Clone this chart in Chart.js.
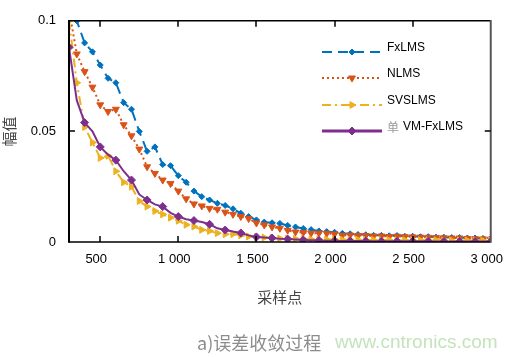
<!DOCTYPE html>
<html><head><meta charset="utf-8">
<script src="https://cdn.jsdelivr.net/npm/chart.js@4/dist/chart.umd.min.js"></script>
<style>
html,body{margin:0;padding:0;background:#fff;}
#wrap{position:relative;width:517px;height:357px;overflow:hidden;background:#fff;}
#c{position:absolute;left:0;top:0;}
.cap{position:absolute;top:329px;font-family:"Noto Sans CJK SC",sans-serif;font-size:18px;line-height:26px;color:#8c8c8c;white-space:nowrap;}
.wm{left:335px;font-family:"Liberation Sans",Arial,sans-serif;font-size:19px;color:#c3e4bb;}
</style></head><body>
<div id="wrap">
<canvas id="c" width="517" height="357" style="width:517px;height:357px"></canvas>
<div class="cap" style="left:197px">a)误差收敛过程</div>
<div class="cap wm">www.cntronics.com</div>
</div>
<script>
const samplePoints = [300,350,400,450,500,550,600,650,700,750,800,850,900,950,1000,1050,1100,1150,1200,1250,1300,1350,1400,1450,1500,1550,1600,1650,1700,1750,1800,1850,1900,1950,2000,2050,2100,2150,2200,2250,2300,2350,2400,2450,2500,2550,2600,2650,2700,2750,2800,2850,2900,2950,3000];
const seriesNames = ['FxLMS','NLMS','SVSLMS','单 VM-FxLMS'];
const fxlms = [0.108,0.100,0.090,0.086,0.080,0.074,0.072,0.063,0.060,0.050,0.041,0.043,0.035,0.0345,0.030,0.027,0.023,0.0205,0.019,0.0175,0.0165,0.015,0.013,0.0115,0.0100,0.0090,0.0087,0.0084,0.0075,0.0068,0.0061,0.0056,0.0050,0.0047,0.0044,0.0039,0.0037,0.0034,0.0033,0.0030,0.0030,0.0028,0.0029,0.0026,0.0026,0.0024,0.0024,0.0022,0.0022,0.0020,0.0020,0.0018,0.0018,0.0016,0.0016];
const nlms = [0.105,0.085,0.077,0.070,0.062,0.059,0.060,0.053,0.048,0.042,0.034,0.031,0.028,0.0264,0.023,0.0195,0.0172,0.0163,0.0152,0.0148,0.0135,0.0125,0.0115,0.0106,0.0086,0.0077,0.0068,0.0062,0.0053,0.0045,0.0043,0.0040,0.0040,0.0039,0.0036,0.0030,0.0031,0.0029,0.0029,0.0027,0.0027,0.0025,0.0026,0.0024,0.0023,0.0022,0.0021,0.0020,0.0019,0.0018,0.0018,0.0016,0.0015,0.0014,0.0013];
const svslms = [0.100,0.072,0.052,0.045,0.038,0.039,0.032,0.027,0.025,0.0185,0.016,0.014,0.0125,0.011,0.0096,0.0078,0.0070,0.0055,0.0050,0.0040,0.0035,0.0036,0.0030,0.0025,0.0022,0.0020,0.0018,0.0016,0.0015,0.0014,0.0013,0.0012,0.0012,0.0011,0.0011,0.0010,0.0010,0.0010,0.0009,0.0009,0.0009,0.0009,0.0008,0.0008,0.0008,0.0008,0.0008,0.0008,0.0007,0.0007,0.0007,0.0007,0.0007,0.0007,0.0007];
const vmfxlms = [0.088,0.064,0.054,0.050,0.043,0.0395,0.037,0.032,0.028,0.0215,0.019,0.017,0.016,0.0132,0.0115,0.0103,0.0097,0.0090,0.0080,0.0062,0.0054,0.0047,0.0041,0.0030,0.0023,0.0020,0.0018,0.0015,0.0013,0.0011,0.0009,0.0008,0.0007,0.0006,0.0005,0.0005,0.0004,0.0004,0.0004,0.0003,0.0003,0.0003,0.0003,0.0003,0.0003,0.0003,0.0003,0.0002,0.0002,0.0002,0.0002,0.0002,0.0002,0.0002,0.0002];
const xTickValues = [500,1000,1500,2000,2500,3000];
const xTickLabels = ['500','1 000','1 500','2 000','2 500','3 000'];
const yTickValues = [0,0.05,0.1];
const yTickLabels = ['0','0.05','0.1'];

const toXY = arr => samplePoints.map((x,i)=>({x:x, y:arr[i]}));

Chart.defaults.font.family = "'Liberation Sans', Arial, sans-serif";
Chart.defaults.font.size = 13;
Chart.defaults.color = '#000';

const datasets = [
  {label:seriesNames[0], data:toXY(fxlms), borderColor:'#0072BD', backgroundColor:'#0072BD', borderWidth:2, borderDash:[10,6],
   pointStyle:'rectRot', pointRadius:3, pointBackgroundColor:'#0072BD', pointBorderColor:'#0072BD', pointBorderWidth:1, order:3},
  {label:seriesNames[1], data:toXY(nlms), borderColor:'#D95319', backgroundColor:'#D95319', borderWidth:2, borderDash:[2,3],
   pointStyle:'triangle', pointRotation:180, pointRadius:4, pointBackgroundColor:'#D95319', pointBorderColor:'#D95319', pointBorderWidth:1, order:2},
  {label:seriesNames[2], data:toXY(svslms), borderColor:'#EDB120', backgroundColor:'#EDB120', borderWidth:2, borderDash:[9,4,2,4],
   pointStyle:'triangle', pointRotation:90, pointRadius:4, pointBackgroundColor:'#EDB120', pointBorderColor:'#EDB120', pointBorderWidth:1, order:1},
  {label:seriesNames[3], data:toXY(vmfxlms), borderColor:'#7E2F8E', backgroundColor:'#7E2F8E', borderWidth:2,
   pointStyle:'rectRot', pointRadius:(c)=> (c.raw && c.raw.x % 100 === 0) ? 4 : 0, pointBackgroundColor:'#7E2F8E', pointBorderColor:'#7E2F8E', pointBorderWidth:1, order:0}
];

function drawMarker(ctx, ds, x, y){
  const r = typeof ds.pointRadius === 'function' ? 4 : ds.pointRadius;
  ctx.save();
  ctx.setLineDash([]);
  ctx.fillStyle = ds.pointBackgroundColor;
  ctx.strokeStyle = ds.pointBorderColor;
  ctx.lineWidth = ds.pointBorderWidth;
  Chart.helpers.drawPoint(ctx, {pointStyle:ds.pointStyle, radius:r, rotation:ds.pointRotation||0, borderWidth:ds.pointBorderWidth}, x, y);
  ctx.restore();
}

const boxPlugin = {
  id:'box',
  afterDraw(chart){
    const {ctx, chartArea:a, scales} = chart;
    ctx.save();
    ctx.setLineDash([]);
    ctx.strokeStyle = '#000';
    ctx.lineWidth = 1.5;
    ctx.beginPath();
    ctx.moveTo(a.left, a.top); ctx.lineTo(a.right, a.top);
    ctx.moveTo(a.left, a.bottom); ctx.lineTo(a.right, a.bottom);
    ctx.stroke();
    ctx.lineWidth = 2;
    ctx.beginPath();
    ctx.moveTo(a.left, a.top - 0.75); ctx.lineTo(a.left, a.bottom + 0.75);
    ctx.stroke();
    ctx.strokeStyle = '#555';
    ctx.beginPath();
    ctx.moveTo(a.right, a.top - 0.75); ctx.lineTo(a.right, a.bottom + 0.75);
    ctx.stroke();
    ctx.strokeStyle = '#000';
    ctx.lineWidth = 1.5;
    ctx.beginPath();
    xTickValues.forEach(v=>{
      const px = Math.round(scales.x.getPixelForValue(v));
      if (px >= a.right - 1) return;
      ctx.moveTo(px, a.bottom); ctx.lineTo(px, a.bottom - 6);
      ctx.moveTo(px, a.top); ctx.lineTo(px, a.top + 6);
    });
    yTickValues.forEach(v=>{
      const py = Math.round(scales.y.getPixelForValue(v));
      if (py <= a.top + 1 || py >= a.bottom - 1) return;
      ctx.moveTo(a.left, py); ctx.lineTo(a.left + 6, py);
      ctx.moveTo(a.right, py); ctx.lineTo(a.right - 6, py);
    });
    ctx.stroke();
    ctx.restore();
  }
};

const legendPlugin = {
  id:'insideLegend',
  afterDraw(chart){
    const ctx = chart.ctx;
    const rows = [52,78,105,131];
    const x0 = 322, x1 = 382, xm = 352, xt = 387;
    chart.data.datasets.forEach((ds,i)=>{
      const y = rows[i];
      ctx.save();
      ctx.strokeStyle = ds.borderColor;
      ctx.lineWidth = i === 3 ? 3 : 2;
      ctx.setLineDash(ds.borderDash || []);
      ctx.beginPath(); ctx.moveTo(x0, y); ctx.lineTo(x1, y); ctx.stroke();
      ctx.restore();
      drawMarker(ctx, ds, xm, y);
      ctx.save();
      ctx.textBaseline = 'middle';
      ctx.textAlign = 'left';
      const label = ds.label;
      if (label.startsWith('单 ')) {
        ctx.font = "12px 'Noto Sans CJK SC'";
        ctx.fillStyle = '#9a9a9a';
        ctx.fillText('单', xt, y - 4);
        ctx.font = "12px 'Liberation Sans', Arial";
        ctx.fillStyle = '#000';
        ctx.fillText(label.slice(2), xt + 16, y - 4);
      } else {
        ctx.font = "12px 'Liberation Sans', Arial";
        ctx.fillStyle = '#000';
        ctx.fillText(label, xt, y - 4);
      }
      ctx.restore();
    });
  }
};

new Chart(document.getElementById('c'), {
  type:'line',
  data:{datasets:datasets},
  options:{
    responsive:false, animation:false,
    layout:{padding:{left:0,right:15,top:15,bottom:0}},
    plugins:{legend:{display:false}, tooltip:{enabled:false}},
    scales:{
      x:{type:'linear', min:300, max:3000,
        grid:{display:false, drawTicks:false}, border:{display:false},
        afterBuildTicks:s=>{ s.ticks = xTickValues.map(v=>({value:v})); },
        afterFit:s=>{ s.height = 115; },
        ticks:{padding:10, labelOffset:-4, maxRotation:0, autoSkip:false,
          callback:(v)=>{ const k = xTickValues.indexOf(v); return k >= 0 ? xTickLabels[k] : ''; }},
        title:{display:true, text:'采样点', color:'#444', font:{family:"'Noto Sans CJK SC'", size:15}, padding:{top:0,bottom:51}}
      },
      y:{type:'linear', min:0, max:0.1,
        grid:{display:false, drawTicks:false}, border:{display:false},
        afterBuildTicks:s=>{ s.ticks = yTickValues.map(v=>({value:v})); },
        afterFit:s=>{ s.width = 69; },
        ticks:{padding:13, callback:(v)=>{ const k = yTickValues.findIndex(t=>Math.abs(t-v)<1e-9); return k >= 0 ? yTickLabels[k] : ''; }},
        title:{display:true, text:'幅值', color:'#444', font:{family:"'Noto Sans CJK SC'", size:15}, padding:{top:0,bottom:0}}
      }
    }
  },
  plugins:[boxPlugin, legendPlugin]
});
</script>
</body></html>
